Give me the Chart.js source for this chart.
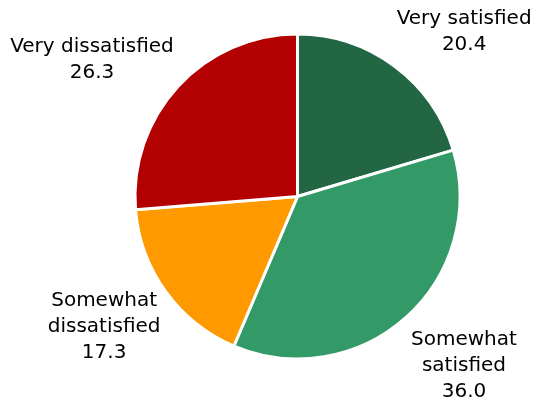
<!DOCTYPE html>
<html>
<head>
<meta charset="utf-8">
<script src="https://cdn.jsdelivr.net/npm/chart.js@4"></script>
<style>
  html, body { margin: 0; padding: 0; background: #fff; }
  #wrap { width: 538px; height: 404px; position: relative; }
</style>
</head>
<body>
<div id="wrap"><canvas id="satisfacao"></canvas></div>
<script>
// categorias e valores (%) - sentido horario a partir do topo
var categorias = [
    ["Very satisfied"],
    ["Somewhat", "satisfied"],
    ["Somewhat", "dissatisfied"],
    ["Very dissatisfied"]
];
var valores = [20.4, 36.0, 17.3, 26.3];
var cores = ['#226644', '#339966', '#FF9900', '#B30000'];

// rotulos fora da fatia, com nome e valor
var rotulosFora = {
    id: 'rotulosFora',
    afterDatasetsDraw: function (chart, args, opts) {
        var ctx = chart.ctx;
        var meta = chart.getDatasetMeta(0);
        var alturaLinha = 26;
        ctx.save();
        ctx.font = '20px "DejaVu Sans"';
        ctx.fillStyle = '#000';
        ctx.textAlign = 'center';
        ctx.textBaseline = 'middle';

        meta.data.forEach(function (arco, i) {
            var linhas = categorias[i].concat([valores[i].toFixed(1)]);
            var largura = 0;
            linhas.forEach(function (l) {
                largura = Math.max(largura, ctx.measureText(l).width);
            });
            var altura = linhas.length * alturaLinha;

            var meio = (arco.startAngle + arco.endAngle) / 2;
            var dx = Math.cos(meio);
            var dy = Math.sin(meio);
            var dist = arco.outerRadius + opts.distancia;
            var ajuste = opts.ajustes[i] || [0, 0];

            var cx = arco.x + dx * dist + dx * largura / 2 + ajuste[0];
            var cy = arco.y + dy * dist + dy * altura / 2 + ajuste[1];
            var y0 = cy - altura / 2 + alturaLinha / 2;

            linhas.forEach(function (l, k) {
                ctx.fillText(l, cx, y0 + k * alturaLinha);
            });
        });
        ctx.restore();
    }
};

var grafico = new Chart(document.getElementById('satisfacao').getContext('2d'), {
    type: 'pie',
    data: {
        labels: categorias.map(function (c) { return c.join(' '); }),
        datasets: [{
            data: valores,
            backgroundColor: cores,
            borderColor: '#ffffff',
            borderWidth: 3,
            hoverOffset: 0
        }]
    },
    options: {
        responsive: true,
        maintainAspectRatio: false,
        animation: false,
        layout: {
            padding: { left: 133.5, right: 76.5, top: 32.5, bottom: 43.5 }
        },
        plugins: {
            legend: { display: false },
            tooltip: { enabled: false },
            rotulosFora: {
                distancia: 27,
                ajustes: [[13, 8], [5, -1], [6, -3], [-6, 9]]
            }
        }
    },
    plugins: [rotulosFora]
});
</script>
</body>
</html>
